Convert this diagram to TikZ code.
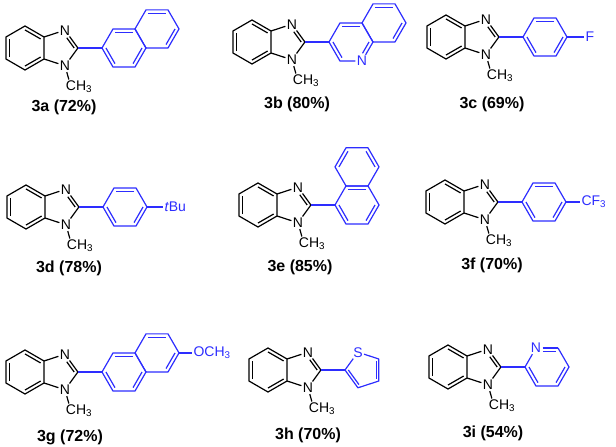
\documentclass[tikz,border=0pt]{standalone}
\usepackage{fontspec}
\setmainfont{Liberation Sans}
\usetikzlibrary{calc}
\definecolor{arb}{RGB}{45,45,255}
\tikzset{
  bond/.style={line width=1.2pt,line join=round},
  atom/.style={inner sep=1.3pt,font=\fontsize{14}{16}\selectfont},
  cmpd/.style={font=\bfseries\fontsize{16}{18}\selectfont},
  ar/.style={color=arb}
}
\newcommand\dbl[4][]{\draw[bond,#1] ($(#2)!0.18!(#4)$) -- ($(#3)!0.18!(#4)$);}
\newcommand\hexf[3]{%
  \coordinate (#1c) at (#2,#3);
  \foreach \k in {0,...,5}{\coordinate (#1v\k) at ({#2+22*cos(60*\k)},{#3+22*sin(60*\k)});}}
\newcommand\bimz[1]{%
  \coordinate (#1o) at (0,0);
  \coordinate (#1a1) at (90:22);  \coordinate (#1a2) at (30:22);
  \coordinate (#1a3) at (-30:22); \coordinate (#1a4) at (-90:22);
  \coordinate (#1a5) at (-150:22);\coordinate (#1a6) at (150:22);
  \coordinate (#1ic) at (34.19,0);
  \coordinate (#1c2) at (52.91,0);
  \node[atom] (#1n3) at (39.97,17.8) {N};
  \node[atom] (#1n1) at (39.97,-17.8) {N};
  \node[atom] (#1me) at (46,-39) {C\rlap{H\textsubscript{3}}};
  \draw[bond] (#1a1)--(#1a2)--(#1a3)--(#1a4)--(#1a5)--(#1a6)--cycle;
  \draw[bond] (#1a2)--(#1n3)--(#1c2)--(#1n1)--(#1a3);
  \draw[bond] (#1n1)--(#1me);
  \dbl{#1a1}{#1a2}{#1o}\dbl{#1a3}{#1a4}{#1o}\dbl{#1a5}{#1a6}{#1o}
  \draw[bond,shorten >=5pt] ($(#1c2)!0.2!(#1ic)$) -- ($(#1n3)!0.2!(#1ic)$);}
\newcommand\phen[1]{%
  \hexf{#1p}{99}{0}
  \draw[bond,ar] (#1c2)--(#1pv3);
  \draw[bond,ar] (#1pv0)--(#1pv1)--(#1pv2)--(#1pv3)--(#1pv4)--(#1pv5)--cycle;
  \dbl[ar]{#1pv1}{#1pv2}{#1pc}\dbl[ar]{#1pv0}{#1pv5}{#1pc}\dbl[ar]{#1pv3}{#1pv4}{#1pc}}
\begin{document}
\begin{tikzpicture}[x=1pt,y=1pt]
\useasboundingbox (0,0) rectangle (616,447);
% 3a
\begin{scope}[shift={(25,399)}]
  \bimz{A}
  \phen{A}
  \hexf{Aq}{132}{19.05}
  \draw[bond,ar] (Aqv0)--(Aqv1)--(Aqv2)--(Aqv3)--(Aqv4)--(Aqv5)--cycle;
  \dbl[ar]{Aqv2}{Aqv1}{Aqc}\dbl[ar]{Aqv0}{Aqv5}{Aqc}
\end{scope}
\node[cmpd] (La) at (64,340) {3a (72\%)};
% 3b
\begin{scope}[shift={(252,405)}]
  \bimz{B}
  \hexf{Bp}{99}{0}
  \hexf{Bq}{132}{19.05}
  \node[atom,ar] (Bnq) at (Bpv5) {N};
  \draw[bond,ar] (Bc2)--(Bpv3);
  \draw[bond,ar] (Bpv0)--(Bpv1)--(Bpv2)--(Bpv3)--(Bpv4)--(Bnq)--(Bpv0);
  \draw[bond,ar] (Bqv0)--(Bqv1)--(Bqv2)--(Bqv3)--(Bqv4)--(Bqv5)--cycle;
  \dbl[ar]{Bpv1}{Bpv2}{Bpc}\dbl[ar]{Bpv3}{Bpv4}{Bpc}
  \draw[bond,ar,shorten >=5pt] ($(Bpv0)!0.18!(Bpc)$) -- ($(Bnq)!0.18!(Bpc)$);
  \dbl[ar]{Bqv2}{Bqv1}{Bqc}\dbl[ar]{Bqv0}{Bqv5}{Bqc}
\end{scope}
\node[cmpd] (Lb) at (297,343) {3b (80\%)};
% 3c
\begin{scope}[shift={(446,410)}]
  \bimz{C}
  \phen{C}
  \node[atom,ar,anchor=west] (Cx) at (138,0) {F};
  \draw[bond,ar] (Cpv0)--(Cx.west);
\end{scope}
\node[cmpd] (Lc) at (492,343) {3c (69\%)};
% 3d
\begin{scope}[shift={(26,240)}]
  \bimz{D}
  \phen{D}
  \node[atom,ar,anchor=west] (Dx) at (137,0) {\textit{t}Bu};
  \draw[bond,ar] (Dpv0)--(Dx.west);
\end{scope}
\node[cmpd] (Ld) at (69,179) {3d (78\%)};
% 3e
\begin{scope}[shift={(258,242)}]
  \bimz{E}
  \hexf{Ep}{99}{0}
  \hexf{Eq}{99}{38.1}
  \draw[bond,ar] (Ec2)--(Epv3);
  \draw[bond,ar] (Epv0)--(Epv1)--(Epv2)--(Epv3)--(Epv4)--(Epv5)--cycle;
  \draw[bond,ar] (Eqv0)--(Eqv1)--(Eqv2)--(Eqv3)--(Eqv4)--(Eqv5)--cycle;
  \dbl[ar]{Epv1}{Epv2}{Epc}\dbl[ar]{Epv3}{Epv4}{Epc}\dbl[ar]{Epv0}{Epv5}{Epc}
  \dbl[ar]{Eqv2}{Eqv3}{Eqc}\dbl[ar]{Eqv0}{Eqv1}{Eqc}
\end{scope}
\node[cmpd] (Le) at (300,180) {3e (85\%)};
% 3f
\begin{scope}[shift={(445,245)}]
  \bimz{F}
  \phen{F}
  \node[atom,ar,anchor=west] (Fx) at (135,0) {CF\textsubscript{3}};
  \draw[bond,ar] (Fpv0)--(Fx.west);
\end{scope}
\node[cmpd] (Lf) at (492,182) {3f (70\%)};
% 3g
\begin{scope}[shift={(25,75)}]
  \bimz{G}
  \phen{G}
  \hexf{Gq}{132}{19.05}
  \draw[bond,ar] (Gqv0)--(Gqv1)--(Gqv2)--(Gqv3)--(Gqv4)--(Gqv5)--cycle;
  \dbl[ar]{Gqv2}{Gqv1}{Gqc}\dbl[ar]{Gqv0}{Gqv5}{Gqc}
  \node[atom,ar,anchor=west] (Gx) at (167,19.05) {OCH\textsubscript{3}};
  \draw[bond,ar] (Gqv0)--(Gx.west);
\end{scope}
\node[cmpd] (Lg) at (70,10) {3g (72\%)};
% 3h
\begin{scope}[shift={(268,77)}]
  \bimz{H}
  \coordinate (Htc) at (95.7,0);
  \coordinate (Ht1) at (76.98,0);
  \node[atom,ar] (Hsu) at (89.92,17.8) {S};
  \coordinate (Ht3) at (110.84,11.0);
  \coordinate (Ht4) at (110.84,-11.0);
  \coordinate (Ht5) at (89.92,-17.8);
  \draw[bond,ar] (Hc2)--(Ht1);
  \draw[bond,ar] (Ht1)--(Hsu);
  \draw[bond,ar] (Hsu)--(Ht3);
  \draw[bond,ar] (Ht3)--(Ht4)--(Ht5)--(Ht1);
  \dbl[ar]{Ht1}{Ht5}{Htc}\dbl[ar]{Ht3}{Ht4}{Htc}
\end{scope}
\node[cmpd] (Lh) at (308,12) {3h (70\%)};
% 3i
\begin{scope}[shift={(448,80)}]
  \bimz{I}
  \hexf{Ip}{99}{0}
  \node[atom,ar] (Ipy) at (Ipv2) {N};
  \draw[bond,ar] (Ic2)--(Ipv3);
  \draw[bond,ar] (Ipv3)--(Ipy);
  \draw[bond,ar] (Ipy)--(Ipv1);
  \draw[bond,ar] (Ipv1)--(Ipv0)--(Ipv5)--(Ipv4)--(Ipv3);
  \draw[bond,ar,shorten <=5pt] ($(Ipy)!0.18!(Ipc)$) -- ($(Ipv1)!0.18!(Ipc)$);
  \dbl[ar]{Ipv0}{Ipv5}{Ipc}\dbl[ar]{Ipv3}{Ipv4}{Ipc}
\end{scope}
\node[cmpd] (Li) at (493,14) {3i (54\%)};
\end{tikzpicture}
\end{document}
